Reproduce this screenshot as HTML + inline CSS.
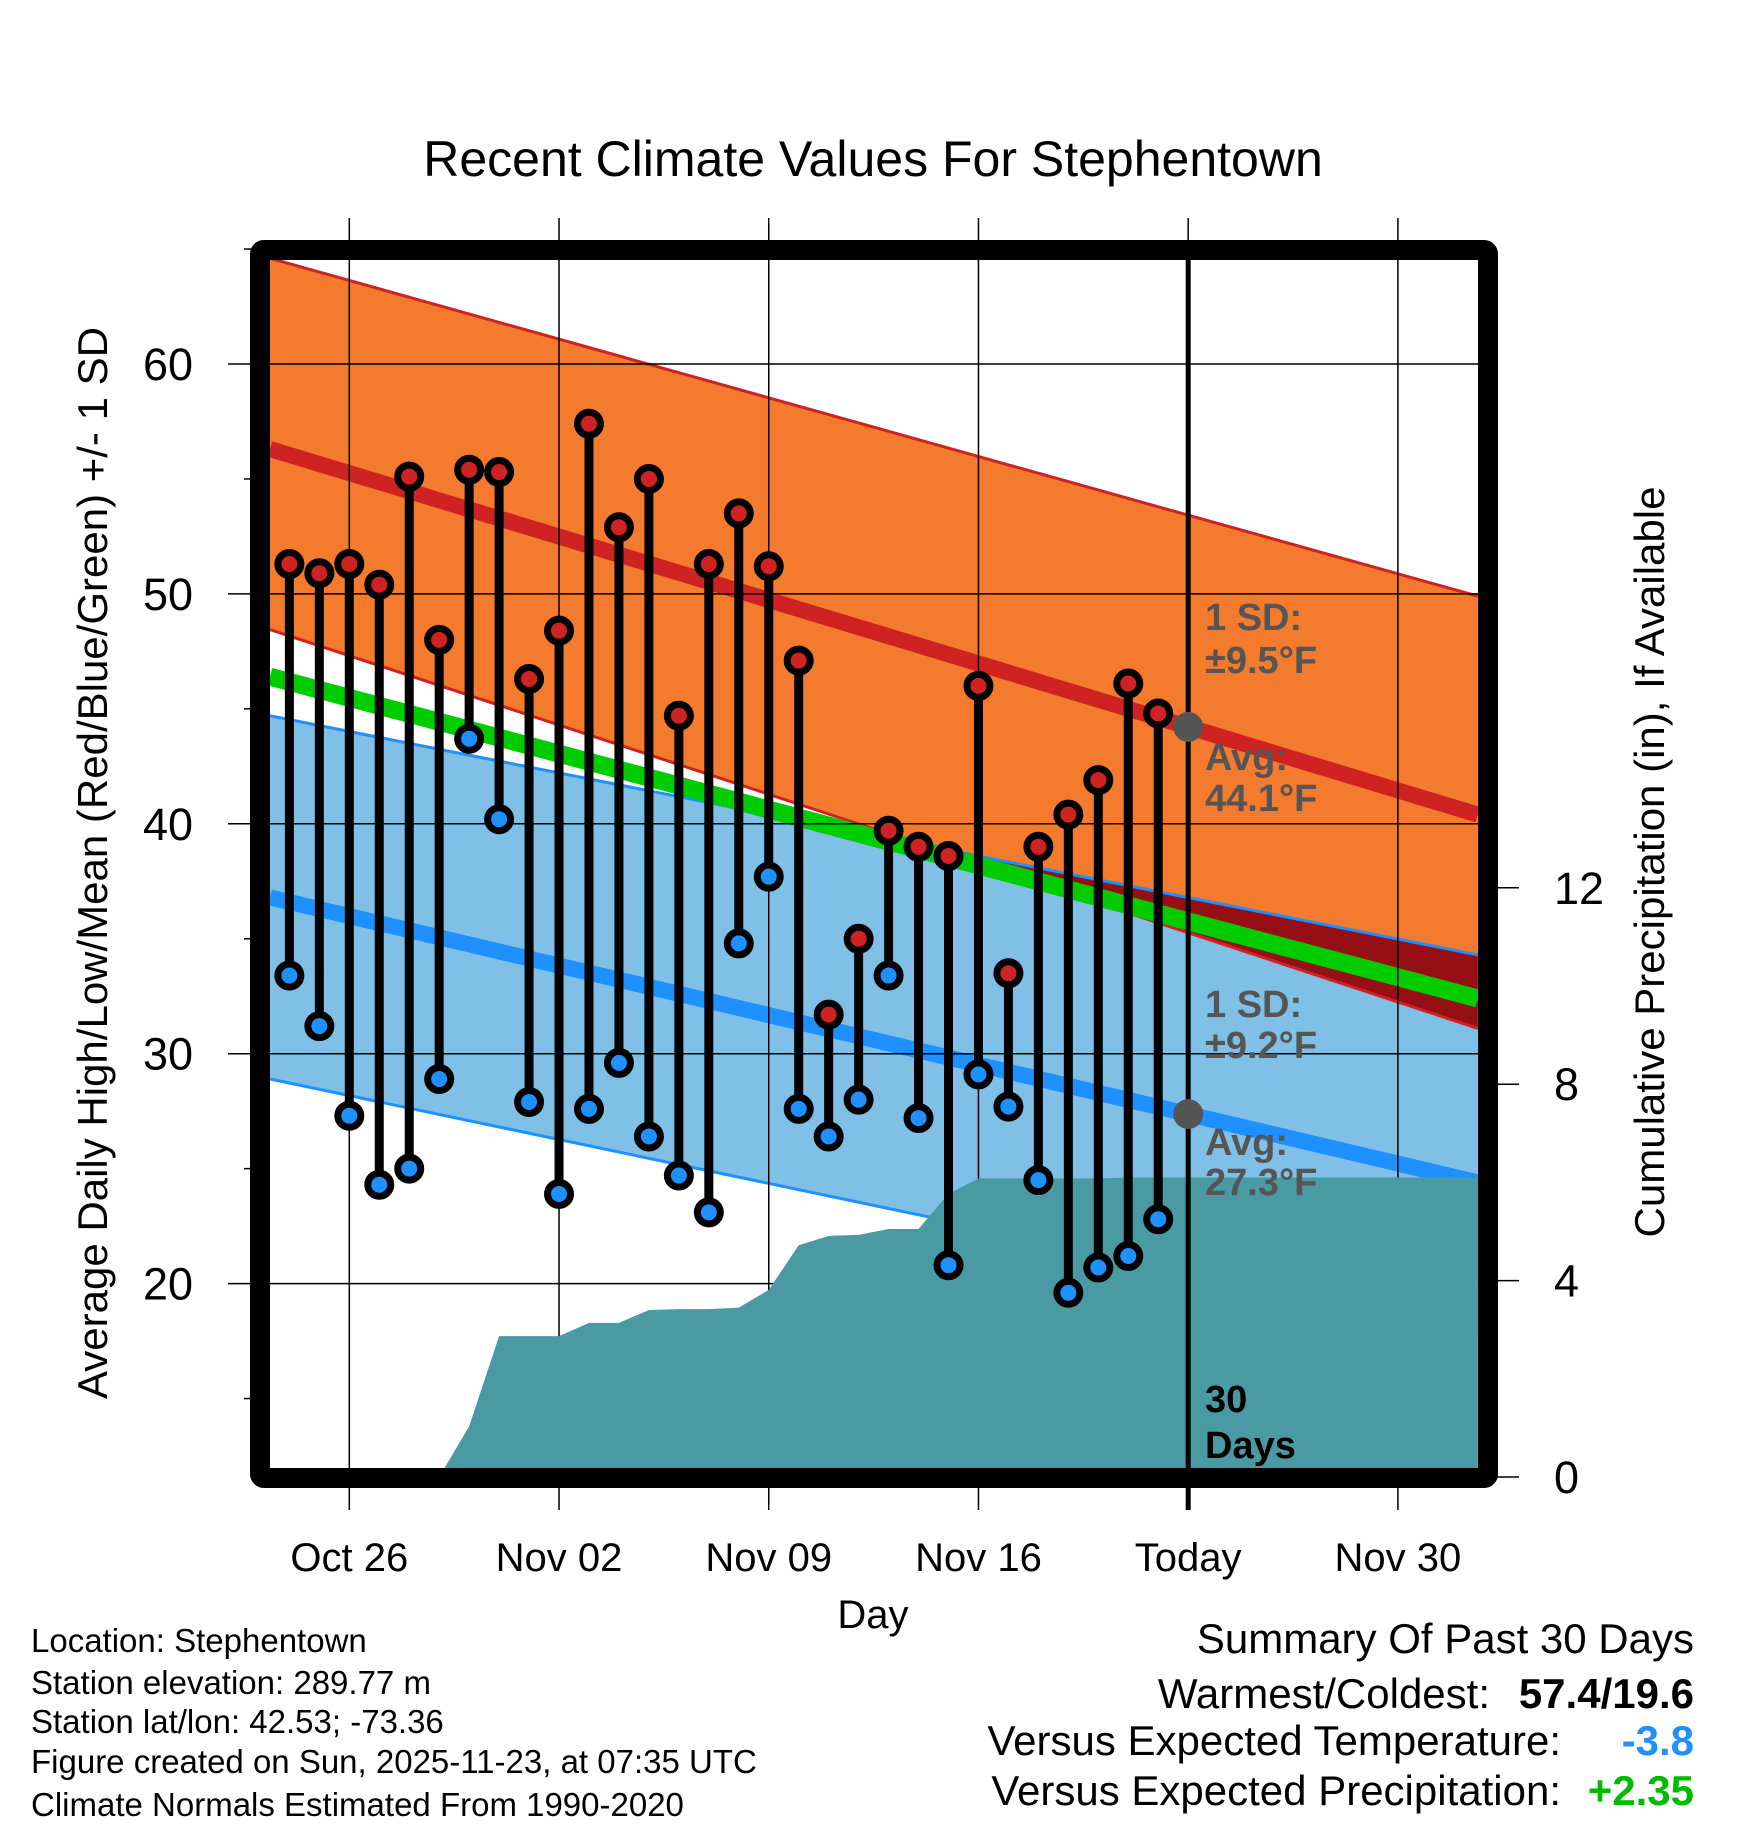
<!DOCTYPE html>
<html><head><meta charset="utf-8"><style>
html,body{margin:0;padding:0;background:#fff;}
svg{display:block;font-family:"Liberation Sans",sans-serif;}
</style></head><body>
<svg id="chart" width="1748" height="1828" viewBox="0 0 1748 1828" xmlns="http://www.w3.org/2000/svg">
<defs><clipPath id="plotclip"><rect x="270" y="260" width="1208" height="1208"/></clipPath></defs>
<g id="plot" clip-path="url(#plotclip)"></g>
<g id="over"></g>
<text x="873" y="176" font-size="50" text-anchor="middle">Recent Climate Values For Stephentown</text>
<text x="873" y="1628" font-size="40" text-anchor="middle">Day</text>
<text transform="translate(107,863) rotate(-90)" font-size="42" text-anchor="middle">Average Daily High/Low/Mean (Red/Blue/Green) +/- 1 SD</text>
<text transform="translate(1664,862) rotate(-90)" font-size="42" text-anchor="middle">Cumulative Precipitation (in), If Available</text>
<g font-size="33">
<text x="31" y="1652">Location: Stephentown</text>
<text x="31" y="1694">Station elevation: 289.77 m</text>
<text x="31" y="1733">Station lat/lon: 42.53; -73.36</text>
<text x="31" y="1773">Figure created on Sun, 2025-11-23, at 07:35 UTC</text>
<text x="31" y="1816">Climate Normals Estimated From 1990-2020</text>
</g>
<g font-size="42">
<text x="1694" y="1653" text-anchor="end">Summary Of Past 30 Days</text>
<text x="1490" y="1708" text-anchor="end">Warmest/Coldest:</text>
<text x="1694" y="1708" text-anchor="end" font-weight="bold">57.4/19.6</text>
<text x="1561" y="1755" text-anchor="end">Versus Expected Temperature:</text>
<text x="1694" y="1755" text-anchor="end" font-weight="bold" fill="#1e90ff">-3.8</text>
<text x="1561" y="1805" text-anchor="end">Versus Expected Precipitation:</text>
<text x="1694" y="1805" text-anchor="end" font-weight="bold" fill="#00bb00">+2.35</text>
</g>
</svg>
<script>
const dayLabels=["Oct 26","Nov 02","Nov 09","Nov 16","Today","Nov 30"];
const highs=[51.3,50.9,51.3,50.4,55.1,48.0,55.4,55.3,46.3,48.4,57.4,52.9,55.0,44.7,51.3,53.5,51.2,47.1,31.7,35.0,39.7,39.0,38.6,46.0,33.5,39.0,40.4,41.9,46.1,44.8];
const lows=[33.4,31.2,27.3,24.3,25.0,28.9,43.7,40.2,27.9,23.9,27.6,29.6,26.4,24.7,23.1,34.8,37.7,27.6,26.4,28.0,33.4,27.2,20.8,29.1,27.7,24.5,19.6,20.7,21.2,22.8];
const precip=[0,0,0,0,0,0,1.03,2.87,2.87,2.87,3.14,3.14,3.40,3.42,3.42,3.45,3.81,4.72,4.91,4.93,5.05,5.05,5.77,6.08,6.08,6.08,6.08,6.08,6.1,6.1];
const precipEnd=6.1;
const hiUpper=[64.6,49.9];
const hiAvg=[56.3,40.4];
const hiLower=[48.45,31.1];
const loUpper=[44.7,34.3];
const loAvg=[36.8,24.4];
const loLower=[28.9,17.9];
const meanAvg=[46.4,32.4];
const yTicks=[20,30,40,50,60];
const y2Ticks=[0,4,8,12];

const NS="http://www.w3.org/2000/svg";
const X=d=>349.3+29.96*d;
const Y=v=>364+(60-v)*22.99;
const YP=p=>1477-p*49.1;
const D0=-2.65,D1=37.67;
const XL=X(D0),XR=X(D1);
const plot=document.getElementById('plot');
const over=document.getElementById('over');
function mk(tag,attrs,parent){const e=document.createElementNS(NS,tag);for(const k in attrs)e.setAttribute(k,attrs[k]);parent.appendChild(e);return e;}
function band(lo,hi){return `${XL},${Y(lo[0])} ${XR},${Y(lo[1])} ${XR},${Y(hi[1])} ${XL},${Y(hi[0])}`;}
let e;
e=mk('polygon',{points:band(hiLower,hiUpper),fill:'#f47a2d'},plot);

e=mk('polygon',{points:band(loLower,loUpper),fill:'#80bfe6'},plot);

const dL=hiLower[0]-loUpper[0],dR=hiLower[1]-loUpper[1];
if(dL*dR<0){const t=dL/(dL-dR);const xc=XL+t*(XR-XL);const vc=hiLower[0]+t*(hiLower[1]-hiLower[0]);
e=mk('polygon',{points:`${xc},${Y(vc)} ${XR},${Y(loUpper[1])} ${XR},${Y(hiLower[1])}`,fill:'#960f14'},plot);
}
function line(a,color,w,name){const l=mk('line',{x1:XL,y1:Y(a[0]),x2:XR,y2:Y(a[1]),stroke:color,'stroke-width':w},plot);}
line(hiUpper,'#cf2222',3,'high-upper-sd-line');
line(hiLower,'#cf2222',3,'high-lower-sd-line');
line(loUpper,'#1e90ff',3,'low-upper-sd-line');
line(loLower,'#1e90ff',3,'low-lower-sd-line');
line(hiAvg,'#cf2222',16,'high-avg-line');
line(loAvg,'#1e90ff',16,'low-avg-line');
line(meanAvg,'#00cc00',18,'mean-avg-line');
yTicks.forEach(v=>{e=mk('line',{x1:228,y1:Y(v),x2:1478,y2:Y(v),stroke:'#000','stroke-width':1.5},over);
 e=mk('text',{x:193,y:Y(v)+16,'font-size':45,'text-anchor':'end'},over);e.textContent=v;});
[15,25,35,45,55,65].forEach(v=>{e=mk('line',{x1:244,y1:Y(v),x2:260,y2:Y(v),stroke:'#000','stroke-width':1.5},over);});
dayLabels.forEach((lab,i)=>{const x=X(i*7);e=mk('line',{x1:x,y1:218,x2:x,y2:1510,stroke:'#000','stroke-width':1.5},over);
 e=mk('text',{x:x,y:1571,'font-size':40,'text-anchor':'middle'},over);e.textContent=lab;});
y2Ticks.forEach(p=>{e=mk('line',{x1:1490,y1:YP(p),x2:1519,y2:YP(p),stroke:'#000','stroke-width':1.5},over);
 e=mk('text',{x:1554,y:YP(p)+16,'font-size':45},over);e.textContent=p;});
let pts=`${X(-2)},${YP(0)} `;
precip.forEach((p,i)=>{pts+=`${X(i-2)},${YP(p)} `;});
pts+=`${XR},${YP(precipEnd)} ${XR},${YP(0)+10}`;
const pg=mk('g',{'clip-path':'url(#plotclip)'},over);
e=mk('polygon',{points:pts,fill:'#4a9aa3'},pg);

highs.forEach((h,i)=>{const x=X(i-2);
 e=mk('line',{x1:x,y1:Y(h),x2:x,y2:Y(lows[i]),stroke:'#000','stroke-width':9},over);});
highs.forEach((h,i)=>{const x=X(i-2);
 e=mk('circle',{cx:x,cy:Y(h),r:11.5,fill:'#cf2222',stroke:'#000','stroke-width':7},over);
 e=mk('circle',{cx:x,cy:Y(lows[i]),r:11.5,fill:'#1e90ff',stroke:'#000','stroke-width':7},over);});
const xt=X(28);
e=mk('line',{x1:xt,y1:260,x2:xt,y2:1510,stroke:'#000','stroke-width':5},over);
const tfrac=(28-D0)/(D1-D0);
const hiT=hiAvg[0]+tfrac*(hiAvg[1]-hiAvg[0]), loT=loAvg[0]+tfrac*(loAvg[1]-loAvg[0]);
e=mk('circle',{cx:xt,cy:Y(hiT),r:15,fill:'#555'},over);
e=mk('circle',{cx:xt,cy:Y(loT),r:15,fill:'#555'},over);
const ann=[["1 SD:",630,'#555'],["±9.5°F",673,'#555'],["Avg:",770,'#555'],["44.1°F",811,'#555'],["1 SD:",1017,'#555'],["±9.2°F",1058,'#555'],["Avg:",1155,'#555'],["27.3°F",1195,'#555'],["30",1412,'#000'],["Days",1458,'#000']];
ann.forEach(a=>{e=mk('text',{x:1205,y:a[1],'font-size':38,'font-weight':'bold',fill:a[2]},over);e.textContent=a[0];});
e=mk('rect',{x:260,y:250,width:1228,height:1228,fill:'none',stroke:'#000','stroke-width':20,rx:4},over);

</script>
</body></html>
